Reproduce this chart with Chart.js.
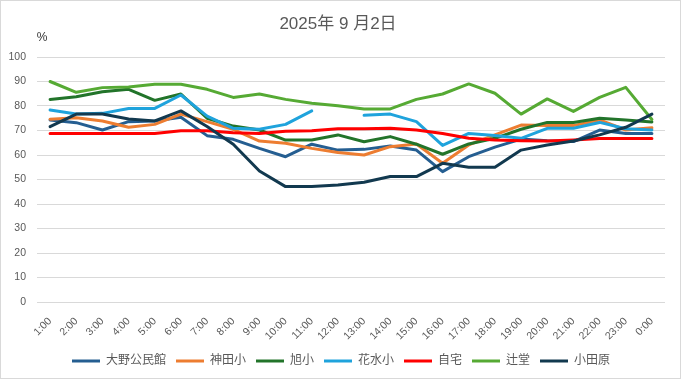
<!DOCTYPE html>
<html>
<head>
<meta charset="utf-8">
<script src="https://cdn.jsdelivr.net/npm/chart.js@4"></script>
<style>
  html, body { margin: 0; padding: 0; background: #fff; }
  #wrap { width: 681px; height: 379px; position: relative; }
</style>
</head>
<body>
<div id="wrap"><canvas id="grafica" width="681" height="379"></canvas></div>
<script>
const horas = ['1:00','2:00','3:00','4:00','5:00','6:00','7:00','8:00','9:00','10:00','11:00','12:00',
  '13:00','14:00','15:00','16:00','17:00','18:00','19:00','20:00','21:00','22:00','23:00','0:00'];
const yTicks = [0, 10, 20, 30, 40, 50, 60, 70, 80, 90, 100];

const ohno     = [74.3, 73.2, 70.2, 73.6, 73.9, 75.4, 67.9, 66.4, 62.7, 59.3, 64.4, 62.0, 62.3, 63.7, 62.0, 53.2, 59.3, 63.2, 66.5, 65.8, 65.5, 70.2, 68.8, 68.8];
const kanda    = [74.6, 75.2, 73.9, 71.3, 72.5, 76.7, 73.6, 70.5, 65.7, 64.8, 62.7, 61.0, 60.0, 63.4, 64.5, 56.6, 64.1, 68.2, 72.2, 72.0, 72.0, 74.3, 70.2, 71.1];
const asahi    = [82.7, 83.8, 85.8, 86.8, 82.3, 84.9, 75.0, 71.8, 70.2, 66.1, 66.1, 68.2, 65.4, 67.5, 64.4, 60.3, 64.5, 66.8, 70.5, 73.3, 73.3, 75.0, 74.3, 73.5];
const hanamizu = [78.4, 76.7, 77.0, 79.0, 79.0, 84.5, 75.9, 70.9, 70.5, 72.5, 78.0, null, 76.2, 76.7, 73.6, 63.9, 68.8, 68.0, 66.8, 70.9, 70.9, 73.3, 70.7, 70.2];
const jitaku   = [68.8, 68.8, 68.8, 68.8, 68.8, 69.9, 69.9, 69.1, 68.8, 69.7, 69.9, 70.7, 70.7, 70.9, 70.2, 68.8, 66.8, 66.1, 65.8, 65.7, 66.1, 66.7, 66.7, 66.7];
const tsujido  = [90.0, 85.6, 87.5, 87.8, 88.9, 88.9, 86.8, 83.5, 84.9, 82.7, 81.1, 80.1, 78.8, 78.8, 82.7, 84.9, 89.0, 85.2, 76.7, 82.9, 77.8, 83.5, 87.6, 74.5];
const odawara  = [71.6, 76.7, 76.7, 74.7, 73.9, 78.0, 71.6, 64.4, 53.5, 47.1, 47.1, 47.8, 48.9, 51.2, 51.2, 56.6, 55.0, 55.0, 62.0, 64.1, 65.7, 68.2, 71.3, 76.7];

const nombres = ['大野公民館', '神田小', '旭小', '花水小', '自宅', '辻堂', '小田原'];
const series  = [ohno, kanda, asahi, hanamizu, jitaku, tsujido, odawara];
const colores = ['#255e91', '#ed7d31', '#22742a', '#1fa3dc', '#ff0000', '#56aa34', '#12394f'];

const fuente = "'Liberation Sans', 'Noto Sans CJK JP', sans-serif";

// fondo, borde, titulo y "%"
const decoracion = {
  id: 'decoracion',
  afterLayout(chart) {
    // centrar la leyenda como en la imagen
    chart.legend.left = 17;
  },
  beforeDraw(chart) {
    const ctx = chart.ctx;
    ctx.save();
    ctx.fillStyle = '#fff';
    ctx.fillRect(0, 0, chart.width, chart.height);
    ctx.strokeStyle = '#d9d9d9';
    ctx.lineWidth = 1;
    ctx.strokeRect(0.5, 0.5, chart.width - 1, chart.height - 1);
    ctx.restore();
  },
  afterDraw(chart) {
    const ctx = chart.ctx;
    ctx.save();
    ctx.textBaseline = 'middle';
    ctx.textAlign = 'center';
    ctx.fillStyle = '#595959';
    ctx.font = "17px " + fuente;
    ctx.fillText('2025年 9 月2日', 338, 24);
    ctx.fillStyle = '#333';
    ctx.font = "12px " + fuente;
    ctx.fillText('%', 42, 38);
    ctx.restore();
  }
};

const datasets = series.map(function(d, i) {
  return {
    label: nombres[i],
    data: d,
    borderColor: colores[i],
    backgroundColor: colores[i],
    borderWidth: 3,
    pointRadius: 0,
    tension: 0,
    spanGaps: false,
    borderJoinStyle: 'round',
    borderCapStyle: 'round',
    order: series.length - i
  };
});

new Chart(document.getElementById('grafica'), {
  type: 'line',
  data: { labels: horas, datasets: datasets },
  plugins: [decoracion],
  options: {
    responsive: false,
    animation: false,
    layout: { padding: { left: 0, right: 16, top: 57, bottom: 2 } },
    plugins: {
      title: { display: false },
      tooltip: { enabled: false },
      legend: {
        position: 'bottom',
        labels: {
          usePointStyle: true,
          pointStyle: 'line',
          pointStyleWidth: 28,
          boxHeight: 12,
          padding: 10,
          color: '#595959',
          font: { size: 12, family: fuente },
          sort: (a, b) => a.datasetIndex - b.datasetIndex
        }
      }
    },
    scales: {
      x: {
        offset: true,
        grid: { display: false },
        border: { display: false },
        ticks: {
          autoSkip: false,
          maxRotation: 45,
          minRotation: 45,
          padding: 5,
          color: '#595959',
          font: { size: 10.5, family: fuente }
        },
        afterFit(scale) { scale.height = 43; }
      },
      y: {
        min: 0,
        max: 100,
        afterBuildTicks(scale) { scale.ticks = yTicks.map(v => ({ value: v })); },
        grid: { color: '#d9d9d9', drawTicks: false, lineWidth: 1 },
        border: { display: false },
        ticks: {
          padding: 11,
          color: '#595959',
          font: { size: 10.5, family: fuente }
        },
        afterFit(scale) { scale.width = 37; }
      }
    }
  }
});
</script>
</body>
</html>
